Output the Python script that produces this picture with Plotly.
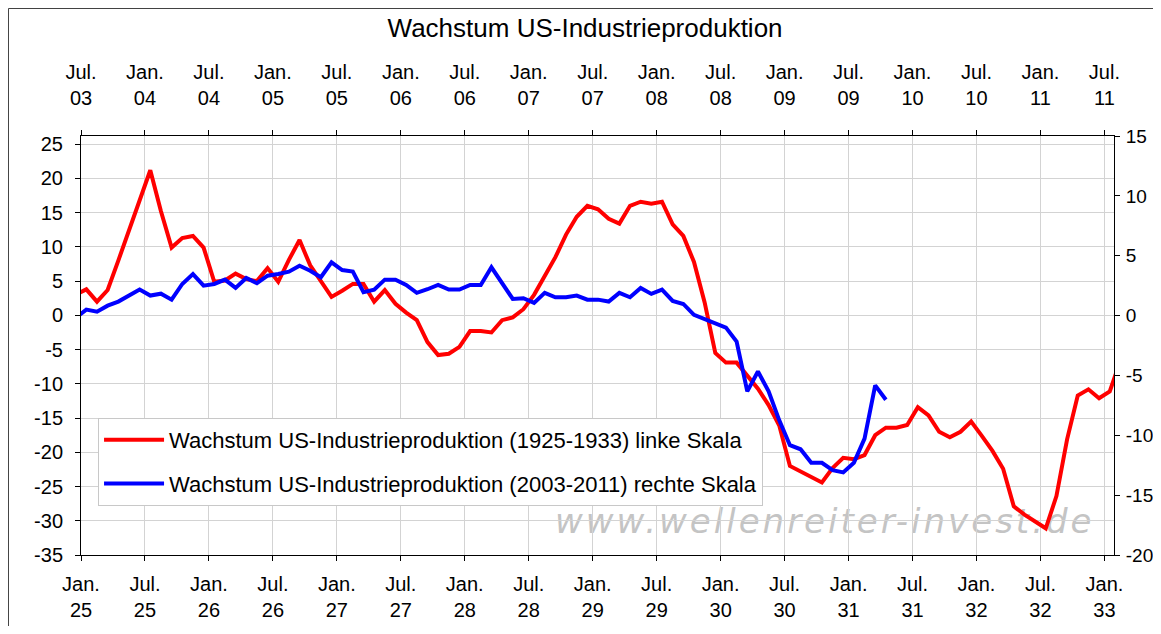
import numpy as np
import plotly.graph_objects as go

# monthly growth values, Dec 1924 .. Feb 1933 (left scale)
red_1925_1933 = [
    3.0, 3.8, 2.0, 3.7, 8.0, 12.4, 16.8, 21.2, 15.2, 9.9, 11.3, 11.6, 9.9,
    4.9, 5.1, 6.1, 5.3, 5.0, 6.9, 4.9, 8.1, 11.0, 7.3, 4.9, 2.7,
    3.6, 4.6, 4.6, 2.0, 3.7, 1.7, 0.4, -0.7, -3.9, -5.8, -5.6, -4.6,
    -2.3, -2.3, -2.5, -0.7, -0.3, 0.9, 3.0, 5.8, 8.5, 11.8, 14.4, 16.0,
    15.5, 14.1, 13.4, 16.0, 16.6, 16.3, 16.6, 13.3, 11.6, 7.8, 1.9, -5.5,
    -6.9, -6.9, -8.9, -10.7, -13.1, -16.1, -22.0, -22.8, -23.6, -24.4, -22.3, -20.8,
    -21.0, -20.4, -17.5, -16.4, -16.4, -16.0, -13.4, -14.6, -17.0, -17.8, -17.0, -15.5,
    -17.6, -19.8, -22.4, -27.9, -29.1, -30.1, -31.1, -26.4, -18.1, -11.7, -10.8, -12.1,
    -11.1, -6.6,
]

# monthly growth values, Jun 2003 .. Oct 2009 (right scale)
blue_2003_2011 = [
    -0.2, 0.5, 0.33, 0.83, 1.17, 1.67, 2.17, 1.67, 1.83, 1.33, 2.64, 3.47, 2.5,
    2.64, 3.0, 2.31, 3.14, 2.7, 3.33, 3.47, 3.67, 4.17, 3.75, 3.2, 4.45,
    3.8, 3.67, 1.95, 2.17, 3.0, 3.0, 2.56, 1.9, 2.2, 2.56, 2.17, 2.17,
    2.56, 2.56, 4.03, 2.72, 1.39, 1.45, 1.06, 1.9, 1.53, 1.53, 1.67, 1.33,
    1.33, 1.17, 1.9, 1.53, 2.31, 1.81, 2.17, 1.22, 0.97, 0.06, -0.3, -0.65,
    -1.0, -2.17, -6.33, -4.67, -6.33, -8.75, -10.83, -11.17, -12.3, -12.3, -12.92, -13.1,
    -12.3, -10.27, -5.83, -7.03,
]

bottom_ticks = ["Jan.<br>25", "Jul.<br>25", "Jan.<br>26", "Jul.<br>26", "Jan.<br>27",
                "Jul.<br>27", "Jan.<br>28", "Jul.<br>28", "Jan.<br>29", "Jul.<br>29",
                "Jan.<br>30", "Jul.<br>30", "Jan.<br>31", "Jul.<br>31", "Jan.<br>32",
                "Jul.<br>32", "Jan.<br>33"]
top_ticks = ["Jul.<br>03", "Jan.<br>04", "Jul.<br>04", "Jan.<br>05", "Jul.<br>05",
             "Jan.<br>06", "Jul.<br>06", "Jan.<br>07", "Jul.<br>07", "Jan.<br>08",
             "Jul.<br>08", "Jan.<br>09", "Jul.<br>09", "Jan.<br>10", "Jul.<br>10",
             "Jan.<br>11", "Jul.<br>11"]
left_ticks = [-35, -30, -25, -20, -15, -10, -5, 0, 5, 10, 15, 20, 25]
right_ticks = [-20, -15, -10, -5, 0, 5, 10, 15]

# months counted from the first tick, each value sits in the middle of its month
x_red = np.arange(len(red_1925_1933)) - 0.5
x_blue = np.arange(len(blue_2003_2011)) - 0.5
tick_pos = list(range(0, 97, 6))

font = "Liberation Sans, Arial, sans-serif"

fig = go.Figure()

fig.add_trace(go.Scatter(
    x=x_red, y=red_1925_1933, mode="lines",
    name="Wachstum US-Industrieproduktion (1925-1933) linke Skala",
    line=dict(color="#ff0000", width=4), legendgroup="a",
))
fig.add_trace(go.Scatter(
    x=x_blue, y=blue_2003_2011, mode="lines", xaxis="x2", yaxis="y2",
    name="Wachstum US-Industrieproduktion (2003-2011) rechte Skala",
    line=dict(color="#0000ff", width=4), legendgroup="b",
))

axis_common = dict(
    showline=True, linecolor="black", linewidth=1,
    ticks="outside", ticklen=5, tickcolor="black",
    tickfont=dict(family=font, size=20, color="black"),
    zeroline=False, automargin=False,
)

# the page body keeps an 8px margin all round, so the figure is 16px smaller
# than the window to avoid scrollbars
fig.update_layout(
    width=1145, height=618,
    margin=dict(l=73, r=39, t=128, b=71),
    paper_bgcolor="white", plot_bgcolor="white",
    font=dict(family=font, color="black"),
    title=dict(text="Wachstum US-Industrieproduktion", x=0.504, xanchor="center",
               y=0.9676, yanchor="middle", font=dict(size=26, color="black")),
    xaxis=dict(range=[0, 96.9], tickmode="array", tickvals=tick_pos, ticktext=bottom_ticks,
               showgrid=True, gridcolor="#d3d3d3", gridwidth=1, ticklabelstandoff=6,
               **axis_common),
    xaxis2=dict(range=[0, 96.9], tickmode="array", tickvals=tick_pos, ticktext=top_ticks,
                overlaying="x", side="top", anchor="y2", showgrid=False,
                ticklabelstandoff=17, **axis_common),
    # plain hyphen minus like the original, not the typographic minus
    yaxis=dict(range=[-35, 26.2], tickmode="array", tickvals=left_ticks,
               ticktext=[str(v) for v in left_ticks],
               showgrid=True, gridcolor="#d3d3d3", gridwidth=1, ticklabelstandoff=8,
               **axis_common),
    yaxis2=dict(range=[-20, 15], tickmode="array", tickvals=right_ticks,
                ticktext=[str(v) for v in right_ticks],
                overlaying="y", side="right", anchor="x2", showgrid=False,
                ticklabelstandoff=2, **axis_common),
    legend=dict(x=0.0165, y=0.327, xanchor="left", yanchor="top",
                bgcolor="white", bordercolor="#c8c8c8", borderwidth=1,
                font=dict(family=font, size=22, color="black"),
                itemwidth=60, tracegroupgap=12),
    showlegend=True,
)
fig.update_layout(yaxis2_tickfont_size=19)

# watermark, between grid and lines
fig.add_shape(
    type="rect", xref="paper", yref="paper", x0=0.45, x1=0.99, y0=0.03, y1=0.14,
    line=dict(width=0), fillcolor="rgba(0,0,0,0)", layer="between",
    label=dict(text='<span style="letter-spacing:3px">www.wellenreiter-invest.de</span>',
               textposition="middle center",
               font=dict(family="DejaVu Sans", size=34, color="#c4c4c4", style="italic")),
)

# outer chart frame
fig.add_shape(
    type="rect", xref="paper", yref="paper", x0=-0.0702, x1=1.06, y0=-0.25, y1=1.3043,
    line=dict(color="#404040", width=1), fillcolor="rgba(0,0,0,0)", layer="below",
)

fig.write_html("out.html")
